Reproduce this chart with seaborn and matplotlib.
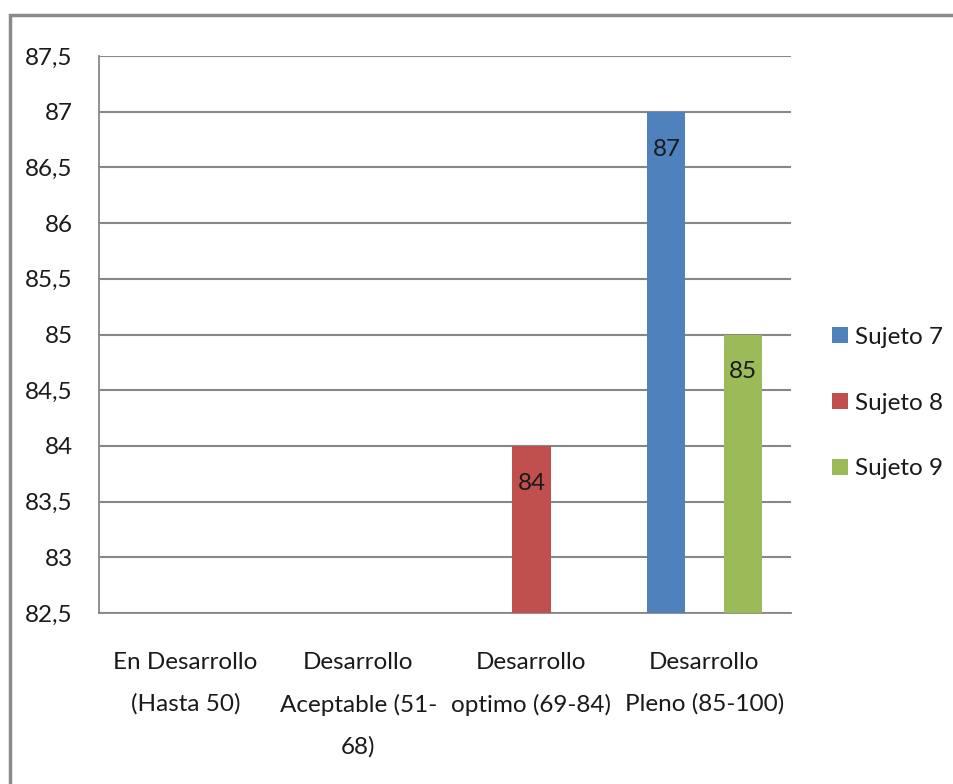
import numpy as np
import pandas as pd
import matplotlib
matplotlib.use("Agg")
import matplotlib.pyplot as plt
from matplotlib.patches import Rectangle
from matplotlib.ticker import FixedLocator
import seaborn as sns

# Data
categories = [
    "En Desarrollo\n(Hasta 50)",
    "Desarrollo\nAceptable (51-\n68)",
    "Desarrollo\noptimo (69-84)",
    "Desarrollo\nPleno (85-100)",
]
series = ["Sujeto 7", "Sujeto 8", "Sujeto 9"]
sujeto7 = [np.nan, np.nan, np.nan, 87]
sujeto8 = [np.nan, np.nan, 84, np.nan]
sujeto9 = [np.nan, np.nan, np.nan, 85]
ytick_values = [82.5, 83, 83.5, 84, 84.5, 85, 85.5, 86, 86.5, 87, 87.5]
ytick_labels = ["82,5", "83", "83,5", "84", "84,5", "85", "85,5", "86", "86,5", "87", "87,5"]
colors = ["#4F81BD", "#C0504D", "#9BBB59"]

rows = []
for name, vals in zip(series, [sujeto7, sujeto8, sujeto9]):
    for cat, v in zip(categories, vals):
        rows.append({"Nivel": cat, "Sujeto": name, "Puntaje": v})
df = pd.DataFrame(rows)

sns.set_style("white")
plt.rcParams["font.family"] = ["Lato", "DejaVu Sans"]
FS = 17.5
GRAY = "#878787"
TEXT = "#1a1a1a"

fig = plt.figure(figsize=(9.54, 7.84), dpi=100)
fig.patch.set_facecolor("white")
ax = fig.add_axes([99 / 954, 1 - 613 / 784, (791 - 99) / 954, (613 - 56) / 784])

sns.barplot(
    data=df.dropna(), x="Nivel", y="Puntaje", hue="Sujeto",
    order=categories, hue_order=series, palette=colors,
    width=0.66, dodge=True, saturation=1, errorbar=None, ax=ax,
    edgecolor="none", zorder=3,
)

ax.set_ylim(82.5, 87.5)
ax.set_xlim(-0.5, len(categories) - 0.5)
ax.set_yticks(ytick_values)
ax.set_yticklabels(ytick_labels, fontsize=FS, color=TEXT)
ax.set_xticks(range(len(categories)))
ax.set_xticklabels(categories, fontsize=FS, linespacing=2.15, color=TEXT)
ax.xaxis.set_minor_locator(FixedLocator(np.arange(-0.5, len(categories), 1.0)))
ax.tick_params(axis="x", which="major", length=0, pad=28)
ax.tick_params(axis="x", which="minor", length=9, width=1.3, color=GRAY, direction="out")
ax.tick_params(axis="y", length=6, width=1.3, color=GRAY, direction="out", pad=13)
ax.set_xlabel("")
ax.set_ylabel("")

ax.grid(axis="y", color=GRAY, linewidth=1.5, zorder=0)
ax.set_axisbelow(True)
for side in ["top", "right"]:
    ax.spines[side].set_visible(False)
for side in ["left", "bottom"]:
    ax.spines[side].set_color(GRAY)
    ax.spines[side].set_linewidth(1.3)

# Value labels inside the top of each visible bar
for container in ax.containers:
    for patch in container.patches:
        h = patch.get_height()
        if np.isnan(h) or h <= 82.5:
            continue
        ax.annotate(f"{h:g}", (patch.get_x() + patch.get_width() / 2, h),
                    xytext=(0, -27), textcoords="offset points",
                    ha="center", va="center", fontsize=FS, color=TEXT, zorder=4)

ax.legend_.remove()
handles = [Rectangle((0, 0), 1, 1, facecolor=c, edgecolor="none") for c in colors]
fig.legend(handles, series, loc="center left",
           bbox_to_anchor=(832 / 954, 1 - 403 / 784), bbox_transform=fig.transFigure,
           frameon=False, fontsize=FS, handlelength=0.65, handleheight=0.65,
           handletextpad=0.3, labelspacing=1.85, borderpad=0, borderaxespad=0,
           labelcolor=TEXT)

# Outer chart frame
fig.patches.append(Rectangle((10 / 954, -0.1), 1.2, 1 - 15 / 784 + 0.1,
                             transform=fig.transFigure, fill=False,
                             edgecolor="#8A8A8A", linewidth=2.5, zorder=10))

fig.savefig("out.png", dpi=100, facecolor="white")
